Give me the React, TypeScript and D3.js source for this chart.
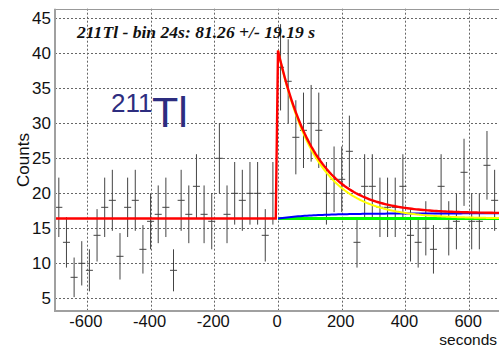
import { useEffect, useRef } from 'react';
import * as d3 from 'd3';

// histogram: 24 s bins starting at -700 s
const binStart = -700;
const binWidth = 24;
const counts = [
    18, 13, 8, 10, 9, 14, 18, 19, 11, 18,
    19, 12, 16, 17, 18, 9, 19, 17, 21, 17,
    16, 25, 17, 20, 19, 20, 20, 14, 20, 38,
    36, 28, 29, 30, 29, 20, 22, 22, 26, 13,
    21, 21, 18, 18, 18, 21, 14, 13, 15, 12,
    21, 15, 16, 23, 16, 16, 24, 19,
];

// fit parameters
const background = 16.4;
const parentAmp = 24.0;
const daughterAmp = 0.74;
const halfLife = 81.26;

const xTicks = [-600, -400, -200, 0, 200, 400, 600];
const yTicks = [5, 10, 15, 20, 25, 30, 35, 40, 45];

const title = '211Tl - bin 24s: 81.26 +/- 19.19 s';

export default function App() {
    const ref = useRef<SVGSVGElement>(null);

    useEffect(() => {
        if (!ref.current) return;
        const svg = d3.select(ref.current);
        svg.selectAll('*').remove();

        const width = 499;
        const height = 348;
        const frame = { left: 55, right: 501, top: 8.7, bottom: 311 };

        const xScale = d3.scaleLinear().domain([-700, 700]).range([frame.left, frame.right]);
        const yScale = d3.scaleLinear().domain([3.19, 46.37]).range([frame.bottom, frame.top]);

        svg.append('rect').attr('width', width).attr('height', height).attr('fill', 'white');

        const snap = (v: number) => Math.round(v) + 0.5;

        // dotted grid
        const grid = svg.append('g').attr('stroke', '#666').attr('stroke-width', 1).attr('stroke-dasharray', '2,2');
        xTicks.forEach(t => {
            grid.append('line')
                .attr('x1', snap(xScale(t))).attr('x2', snap(xScale(t)))
                .attr('y1', frame.top).attr('y2', frame.bottom);
        });
        yTicks.forEach(t => {
            grid.append('line')
                .attr('x1', frame.left).attr('x2', width)
                .attr('y1', snap(yScale(t))).attr('y2', snap(yScale(t)));
        });

        // frame
        svg.append('line')
            .attr('x1', frame.left).attr('x2', width)
            .attr('y1', snap(frame.top)).attr('y2', snap(frame.top))
            .attr('stroke', '#999').attr('stroke-width', 1);

        // data points with sqrt(N) errors
        const data = counts.map((n, i) => ({
            lo: binStart + i * binWidth,
            hi: binStart + (i + 1) * binWidth,
            mid: binStart + (i + 0.5) * binWidth,
            n: n,
            err: Math.sqrt(n),
        }));
        const pts = svg.append('g').attr('stroke', '#444').attr('stroke-width', 1);
        data.forEach(d => {
            pts.append('line')
                .attr('x1', xScale(d.mid)).attr('x2', xScale(d.mid))
                .attr('y1', yScale(d.n - d.err)).attr('y2', yScale(d.n + d.err));
            pts.append('line')
                .attr('x1', xScale(d.lo) + 0.3).attr('x2', xScale(d.hi) - 0.3)
                .attr('y1', yScale(d.n)).attr('y2', yScale(d.n));
        });

        // fit components
        const lambda = Math.LN2 / halfLife;
        const total = (t: number) => t < 0 ? background
            : background + parentAmp * Math.exp(-lambda * t) + daughterAmp * (1 - Math.exp(-lambda * t));
        const parent = (t: number) => background + parentAmp * Math.exp(-lambda * t);
        const daughter = (t: number) => background + daughterAmp * (1 - Math.exp(-lambda * t));
        const bkg = (_t: number) => background;

        const sample = (a: number, b: number, n: number) => d3.range(n + 1).map(i => a + (b - a) * i / n);
        const line = (f: (t: number) => number) => d3.line<number>()
            .x(t => xScale(t))
            .y(t => yScale(f(t)));

        const curves: [(t: number) => number, number[], string, number][] = [
            [bkg, sample(0, 700, 100), '#00ff00', 2.8],
            [daughter, sample(0, 700, 100), '#0000ff', 2],
            [parent, sample(0, 700, 200), '#ffff00', 2],
            [total, sample(-700, 700, 200), '#ff0000', 2.4],
        ];
        curves.forEach(([f, ts, color, w]) => {
            svg.append('path')
                .attr('d', line(f)(ts))
                .attr('fill', 'none')
                .attr('stroke', color)
                .attr('stroke-width', w);
        });

        // axes lines
        svg.append('line')
            .attr('x1', frame.left).attr('x2', frame.left)
            .attr('y1', frame.top).attr('y2', frame.bottom + 1)
            .attr('stroke', '#a0a0a0').attr('stroke-width', 2);
        svg.append('line')
            .attr('x1', frame.left - 1).attr('x2', width)
            .attr('y1', frame.bottom).attr('y2', frame.bottom)
            .attr('stroke', '#a0a0a0').attr('stroke-width', 2);

        // tick labels
        const font = "'Liberation Sans', Arial, sans-serif";
        xTicks.forEach(t => {
            svg.append('text')
                .attr('x', xScale(t) - 1).attr('y', 326.5)
                .attr('text-anchor', 'middle')
                .style('font-family', font).style('font-size', '16.5px')
                .attr('fill', '#111')
                .text(t);
        });
        yTicks.forEach(t => {
            svg.append('text')
                .attr('x', 51).attr('y', yScale(t) + 6)
                .attr('text-anchor', 'end')
                .style('font-family', font).style('font-size', '17px')
                .attr('fill', '#111')
                .text(t);
        });

        // axis titles
        svg.append('text')
            .attr('transform', 'translate(29, 160) rotate(-90)')
            .attr('text-anchor', 'middle')
            .style('font-family', font).style('font-size', '17px')
            .attr('fill', '#111')
            .text('Counts');
        svg.append('text')
            .attr('x', 497).attr('y', 344.5)
            .attr('text-anchor', 'end')
            .style('font-family', font).style('font-size', '15.5px')
            .attr('fill', '#111')
            .text('seconds');

        // fit result
        svg.append('text')
            .attr('x', 77).attr('y', 37.7)
            .attr('textLength', 238).attr('lengthAdjust', 'spacingAndGlyphs')
            .style('font-family', "'Liberation Serif', 'Times New Roman', serif")
            .style('font-size', '16px').style('font-weight', 'bold').style('font-style', 'italic')
            .attr('fill', '#111')
            .text(title);

        // isotope label
        const iso = svg.append('text')
            .style('font-family', font)
            .attr('fill', '#2d2d7f');
        iso.append('tspan').attr('x', 111).attr('y', 112).style('font-size', '26px').text('211');
        iso.append('tspan').attr('x', 152).attr('y', 126.7).style('font-size', '43px').text('Tl');
    }, []);

    return (
        <svg ref={ref} width={499} height={348}
            style={{ position: 'absolute', left: 0, top: 0, display: 'block' }} />
    );
}
